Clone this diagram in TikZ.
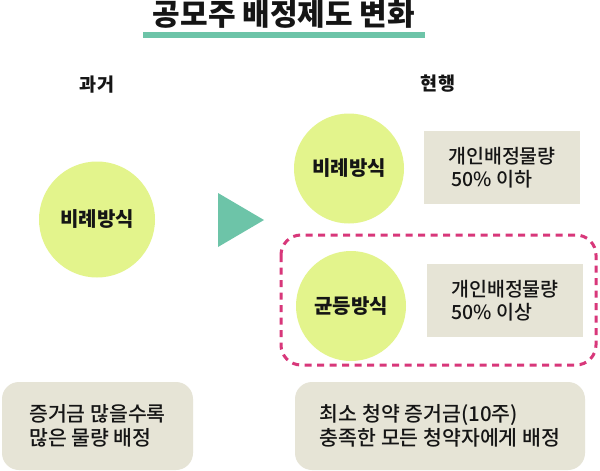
\documentclass[tikz,border=0pt]{standalone}
\usepackage{fontspec}
\setmainfont{Noto Sans CJK KR}
\newfontfamily\krblack{Noto Sans CJK KR Black}
\newfontfamily\krmedium{Noto Sans CJK KR Medium}
\usetikzlibrary{positioning}
\definecolor{lime}{HTML}{E3F48C}
\definecolor{teal2}{HTML}{6DC4A8}
\definecolor{boxgray}{HTML}{E6E4D6}
\definecolor{pinkdash}{HTML}{D8377A}
\definecolor{ink}{HTML}{151515}
\tikzset{
  circ/.style={circle, fill=lime, minimum size=110pt, inner sep=0pt, font=\krblack\fontsize{20}{24}\selectfont, text=ink},
  infobox/.style={rectangle, fill=boxgray, minimum width=156pt, minimum height=73pt, inner sep=0pt, align=left, font=\krmedium\fontsize{19.5}{23.5}\selectfont, text=ink},
  notebox/.style={rectangle, rounded corners=17pt, fill=boxgray, inner sep=0pt, align=left, font=\krmedium\fontsize{20.5}{23.5}\selectfont, text=ink},
  header/.style={font=\krblack\fontsize{18.5}{20}\selectfont, text=ink},
}
\begin{document}
\begin{tikzpicture}[x=1pt,y=-1pt]
\useasboundingbox (0,0) rectangle (600,471);
\fill[white] (0,0) rectangle (600,471);
% title
\node[font=\krblack\fontsize{30}{32}\selectfont, text=ink] (title) at (284,14) {공모주 배정제도 변화};
\fill[teal2] (143,32) rectangle (425,37.5);
% headers
\node[header] (past) at (97,85) {과거};
\node[header] (now) at (438,84) {현행};
% left circle
\node[circ, minimum size=116pt] (old) at (97,219.5) {비례방식};
% triangle arrow
\fill[teal2] (218,193) -- (218,247) -- (264,220) -- cycle;
% right circles
\node[circ] (prop) at (349,168.5) {비례방식};
\node[circ] (equal) at (351,306) {균등방식};
% info boxes
\node[infobox] (box1) at (502,167.5) {개인배정물량\\\hspace*{3pt}50\% 이하};
\node[infobox] (box2) at (505,300.5) {개인배정물량\\50\% 이상};
% dashed highlight
\draw[pinkdash, line width=3pt, dash pattern=on 7pt off 5.5pt, rounded corners=20pt] (281,235) rectangle (596,365);
% bottom notes
\node[notebox, minimum width=191pt, minimum height=88pt] (note1) at (97.5,426) {증거금 많을수록\\많은 물량 배정};
\node[notebox, minimum width=290pt, minimum height=88pt] (note2) at (440,426) {최소 청약 증거금(10주)\\충족한 모든 청약자에게 배정};
\end{tikzpicture}
\end{document}
